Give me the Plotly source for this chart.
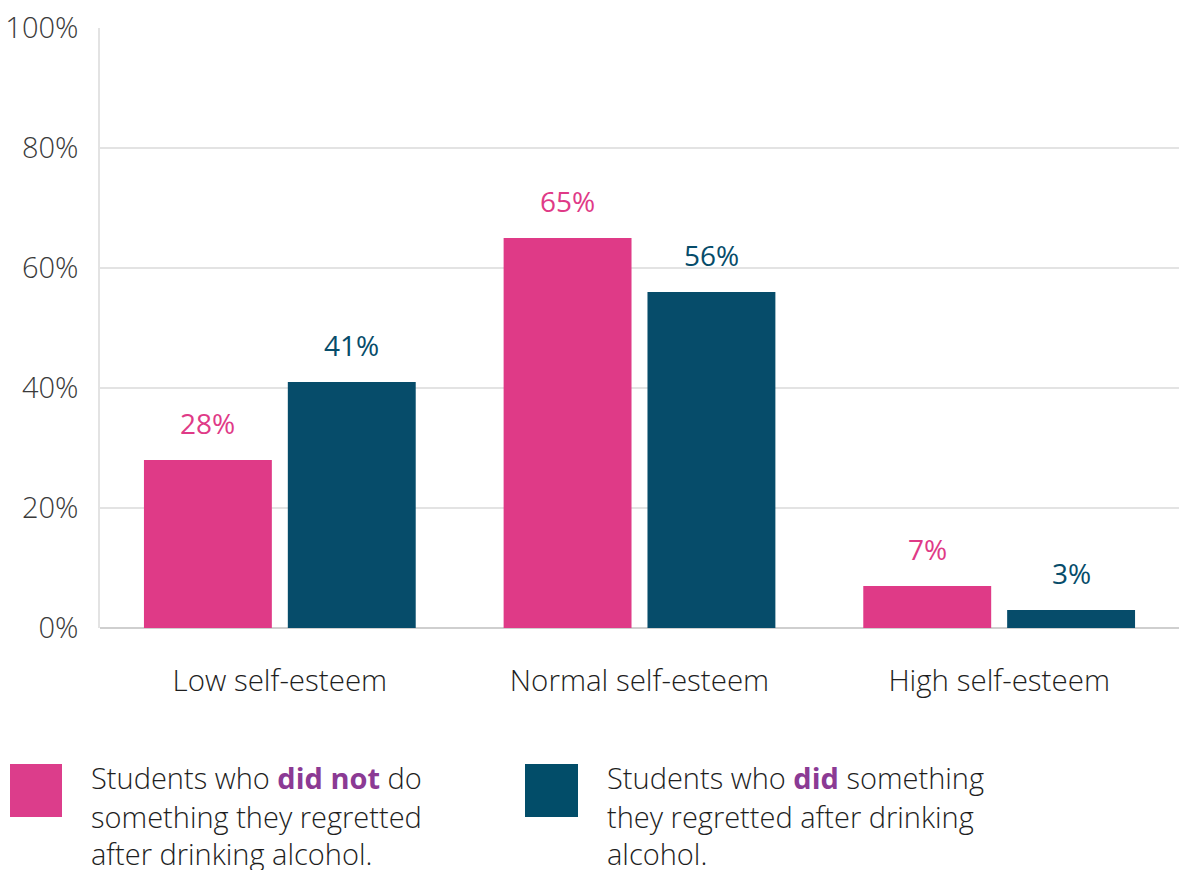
import plotly.graph_objects as go

categories = ["Low self-esteem", "Normal self-esteem", "High self-esteem"]
did_not = [28, 65, 7]
did = [41, 56, 3]
y_ticks = [0, 20, 40, 60, 80, 100]
y_tick_labels = ["0%", "20%", "40%", "60%", "80%", "100%"]

PINK = "#df3a87"
NAVY = "#064c6a"
PURPLE = "#8b3a94"
FONT = "Open Sans"

fig = go.Figure()
fig.add_trace(go.Bar(x=categories, y=did_not, marker=dict(color=PINK, line_width=0),
                     name="did not", hoverinfo="skip"))
fig.add_trace(go.Bar(x=categories, y=did, marker=dict(color=NAVY, line_width=0),
                     name="did", hoverinfo="skip"))

# value labels above each bar
for i, cat in enumerate(categories):
    for vals, col, shift in ((did_not, PINK, -72), (did, NAVY, 72)):
        fig.add_annotation(x=cat, y=vals[i], xref="x", yref="y", text=f"{vals[i]}%",
                           showarrow=False, xshift=shift, yshift=37, yanchor="middle",
                           font=dict(family=FONT, size=28, color=col, weight=500))

# legend blocks
fig.add_shape(type="rect", xref="paper", yref="paper",
              x0=(10 - 100) / 1079, x1=(62 - 100) / 1079,
              y0=(628 - 764) / 600, y1=(628 - 817) / 600,
              fillcolor="#dc3d8b", line_width=0)
fig.add_shape(type="rect", xref="paper", yref="paper",
              x0=(525 - 100) / 1079, x1=(578 - 100) / 1079,
              y0=(628 - 764) / 600, y1=(628 - 817) / 600,
              fillcolor="#024d69", line_width=0)

legend_left = [
    f"Students who <span style='color:{PURPLE}'><b>did not</b></span> do",
    "something they regretted",
    "after drinking alcohol.",
]
legend_right = [
    f"Students who <span style='color:{PURPLE}'><b>did</b></span> something",
    "they regretted after drinking",
    "alcohol.",
]
line_y = [777, 816, 853]
for lines, px in ((legend_left, 89), (legend_right, 605)):
    for txt, py in zip(lines, line_y):
        fig.add_annotation(x=(px - 100) / 1079, y=(628 - py) / 600, xref="paper", yref="paper",
                           text=txt, showarrow=False, xanchor="left", yanchor="middle",
                           font=dict(family=FONT, size=29, color="#1e1e1e", weight=300))

fig.update_layout(
    width=1179, height=870,
    margin=dict(l=100, r=0, t=28, b=242),
    paper_bgcolor="white", plot_bgcolor="white",
    barmode="group", bargap=0.2, bargroupgap=0.111,
    showlegend=False,
    font=dict(family=FONT, color="#333"),
)
fig.update_xaxes(
    showgrid=False, showline=False, ticks="",
    tickfont=dict(family=FONT, size=29.5, color="#1e1e1e", weight=300),
    ticklabelstandoff=32,
)
fig.update_yaxes(
    range=[0, 100], tickvals=y_ticks, ticktext=y_tick_labels,
    showgrid=True, gridcolor="#e3e3e3", gridwidth=1.5,
    zeroline=True, zerolinecolor="#cfcfcf", zerolinewidth=1.5,
    showline=True, linecolor="#e3e3e3", linewidth=1.5,
    ticks="", ticklabelstandoff=14,
    tickfont=dict(family=FONT, size=29, color="#3a3a3a", weight=300),
)

fig.write_html("out.html")
